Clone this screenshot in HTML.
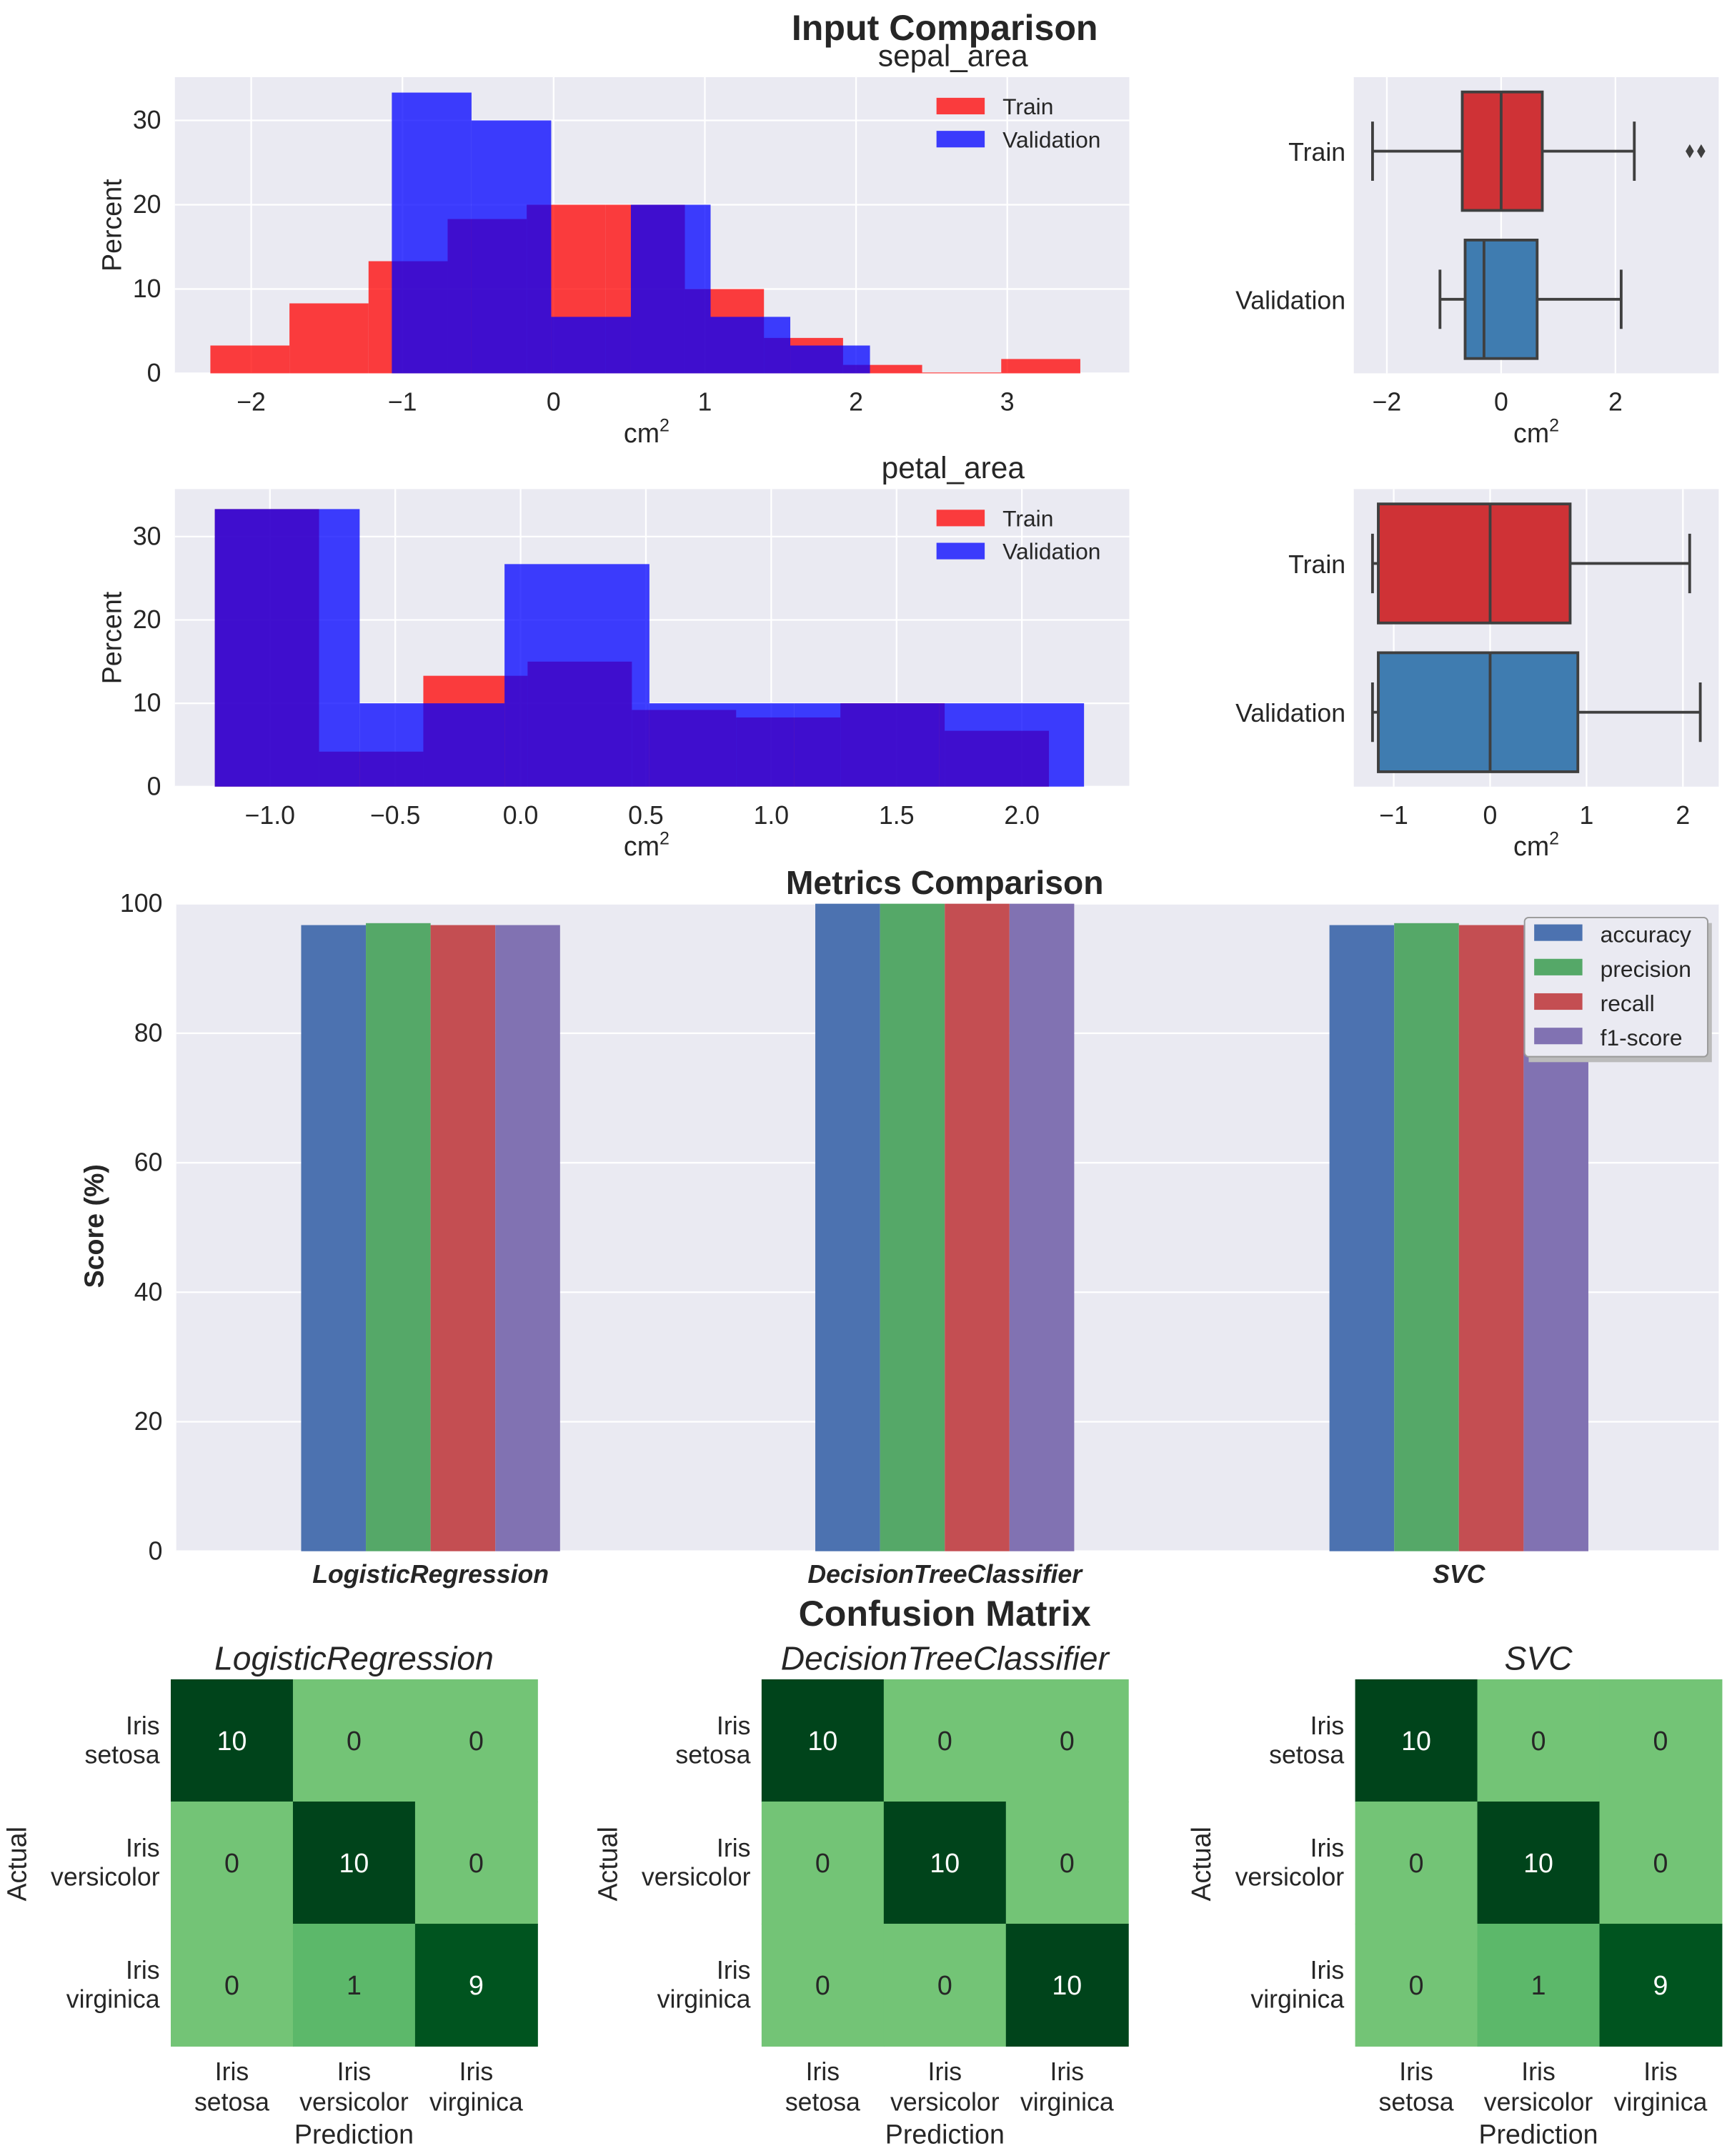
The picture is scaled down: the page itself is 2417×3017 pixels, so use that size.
<!DOCTYPE html>
<html><head><meta charset="utf-8"><style>
html,body{margin:0;padding:0;background:#fff}
svg{display:block;font-family:"Liberation Sans",Arial,sans-serif}
</style></head><body>
<svg id="fig" width="2417" height="3017" viewBox="0 0 1254 1565" preserveAspectRatio="none" xmlns="http://www.w3.org/2000/svg"></svg>
<script>
// ---------- data ----------
const sepalTrainStart = -2.27, sepalTrainWidth = 0.523;
const sepalTrain = [3.3, 8.3, 13.3, 18.3, 20, 20, 10, 4.2, 1, 0.1, 1.7];
const sepalValStart = -1.07, sepalValWidth = 0.527;
const sepalVal = [33.3, 30, 6.7, 20, 6.7, 3.3];
const petalTrainStart = -1.22, petalTrainWidth = 0.416;
const petalTrain = [33.3, 4.2, 13.3, 15, 9.2, 8.3, 10, 6.7];
const petalValStart = -1.22, petalValWidth = 0.578;
const petalVal = [33.3, 10, 26.7, 10, 10, 10];
const sepalTicksX = [-2, -1, 0, 1, 2, 3];
const petalTicksX = [-1.0, -0.5, 0.0, 0.5, 1.0, 1.5, 2.0];
const histTicksY = [0, 10, 20, 30];
// boxplot stats: [whiskerLo, q1, median, q3, whiskerHi]
const sepalBoxTrain = [-2.25, -0.68, 0, 0.72, 2.33];
const sepalBoxVal = [-1.07, -0.63, -0.3, 0.63, 2.1];
const sepalFliers = [3.3, 3.5];
const petalBoxTrain = [-1.22, -1.16, 0, 0.83, 2.07];
const petalBoxVal = [-1.22, -1.16, 0, 0.91, 2.18];
const sepalBoxTicks = [-2, 0, 2];
const petalBoxTicks = [-1, 0, 1, 2];
const models = ["LogisticRegression", "DecisionTreeClassifier", "SVC"];
const metricNames = ["accuracy", "precision", "recall", "f1-score"];
const accuracy = [96.7, 100, 96.7];
const precision = [97.0, 100, 97.0];
const recall = [96.7, 100, 96.7];
const f1score = [96.7, 100, 96.7];
const metricTicks = [0, 20, 40, 60, 80, 100];
const classes = ["setosa", "versicolor", "virginica"];
const cmLR = [[10,0,0],[0,10,0],[0,1,9]];
const cmDT = [[10,0,0],[0,10,0],[0,0,10]];
const cmSVC = [[10,0,0],[0,10,0],[0,1,9]];

const NS = "http://www.w3.org/2000/svg";
const svg = document.getElementById("fig");
function el(tag, attrs, parent, text) {
  const e = document.createElementNS(NS, tag);
  for (const k in attrs) e.setAttribute(k, attrs[k]);
  if (text !== undefined) e.textContent = text;
  (parent || svg).appendChild(e);
  return e;
}
function txt(x, y, s, size, opts, name) {
  const o = Object.assign({x: x, y: y, "font-size": size, fill: "#262626", "text-anchor": "middle"}, opts || {});
  const t = el("text", o, null, s);
  
  
  return t;
}
const BG = "#eaeaf2";

// ---------- titles ----------
txt(686, 29, "Input Comparison", 26, {"font-weight": "bold"}, "input-comparison-title");

// ---------- histograms ----------
function hist(cfg) {
  const {L, R, T, B, x0px, unit, ticksX, title, tr, va, name} = cfg;
  const g = el("g", {});
  
  
  el("rect", {x: L, y: T, width: R - L, height: B - T, fill: BG}, g);
  const X = v => x0px + v * unit;
  const Y = v => B - v * cfg.ypp;
  ticksX.forEach(t => {
    el("line", {x1: X(t), x2: X(t), y1: T, y2: B, stroke: "#fff", "stroke-width": 1.2}, g);
    txt(X(t), B + 27, (t < 0 ? "\u2212" + Math.abs(t).toFixed(cfg.dec) : t.toFixed(cfg.dec)), 18.5, {}, "x-tick-label");
  });
  histTicksY.forEach(t => {
    el("line", {x1: L, x2: R, y1: Y(t), y2: Y(t), stroke: "#fff", "stroke-width": 1.2}, g);
    txt(L - 10, Y(t) + 6, String(t), 18.5, {"text-anchor": "end"}, "y-tick-label");
  });
  tr.vals.forEach((v, i) => {
    const r = el("rect", {x: X(tr.start + i * tr.w), y: Y(v), width: tr.w * unit, height: v * cfg.ypp, fill: "#ff0000", "fill-opacity": 0.75}, g);
    
    
  });
  va.vals.forEach((v, i) => {
    const r = el("rect", {x: X(va.start + i * va.w), y: Y(v), width: va.w * unit, height: v * cfg.ypp, fill: "#0000ff", "fill-opacity": 0.75}, g);
    
    
  });
  txt(692, T - 8, title, 22, {}, "subplot-title");
  txt(88, (T + B) / 2, "Percent", 19.5, {transform: `rotate(-90 88 ${(T + B) / 2})`}, "y-axis-title");
  const xl = txt((L + R) / 2 - 4, B + 50, "cm", 19.5, {}, "x-axis-title");
  el("tspan", {dy: -8, "font-size": 13}, xl, "2");
  const lg = el("g", {});
  
  
  el("rect", {x: 680, y: T + 15, width: 35, height: 12, fill: "#ff0000", "fill-opacity": 0.75}, lg);
  el("rect", {x: 680, y: T + 39, width: 35, height: 12, fill: "#0000ff", "fill-opacity": 0.75}, lg);
  txt(728, T + 27, "Train", 16.5, {"text-anchor": "start"}, "legend-train");
  txt(728, T + 51, "Validation", 16.5, {"text-anchor": "start"}, "legend-validation");
}
hist({L: 127, R: 820, T: 56, B: 271, x0px: 402, unit: 109.8, ypp: 6.12, ticksX: sepalTicksX, dec: 0, title: "sepal_area", name: "sepal-histogram",
  tr: {start: sepalTrainStart, w: sepalTrainWidth, vals: sepalTrain}, va: {start: sepalValStart, w: sepalValWidth, vals: sepalVal}});
hist({L: 127, R: 820, T: 355, B: 571, x0px: 378, unit: 182, ypp: 6.05, ticksX: petalTicksX, dec: 1, title: "petal_area", name: "petal-histogram",
  tr: {start: petalTrainStart, w: petalTrainWidth, vals: petalTrain}, va: {start: petalValStart, w: petalValWidth, vals: petalVal}});

// ---------- boxplots ----------
function boxplot(cfg) {
  const {L, R, T, B, x0px, unit, ticks, boxes, fliers, name} = cfg;
  const g = el("g", {});
  
  
  el("rect", {x: L, y: T, width: R - L, height: B - T, fill: BG}, g);
  const X = v => x0px + v * unit;
  ticks.forEach(t => {
    el("line", {x1: X(t), x2: X(t), y1: T, y2: B, stroke: "#fff", "stroke-width": 1.2}, g);
    txt(X(t), B + 27, t < 0 ? "\u2212" + Math.abs(t) : String(t), 18.5, {}, "x-tick-label");
  });
  const labels = ["Train", "Validation"], cols = ["#cf3236", "#3f7cb0"];
  const h = B - T;
  boxes.forEach((s, i) => {
    const cy = T + h * (0.25 + 0.5 * i), bh = h * 0.4;
    const bg = el("g", {}, g);
    
    
    el("line", {x1: X(s[0]), x2: X(s[1]), y1: cy, y2: cy, stroke: "#3f3f3f", "stroke-width": 2}, bg);
    el("line", {x1: X(s[3]), x2: X(s[4]), y1: cy, y2: cy, stroke: "#3f3f3f", "stroke-width": 2}, bg);
    el("line", {x1: X(s[0]), x2: X(s[0]), y1: cy - bh / 4, y2: cy + bh / 4, stroke: "#3f3f3f", "stroke-width": 2}, bg);
    el("line", {x1: X(s[4]), x2: X(s[4]), y1: cy - bh / 4, y2: cy + bh / 4, stroke: "#3f3f3f", "stroke-width": 2}, bg);
    el("rect", {x: X(s[1]), y: cy - bh / 2, width: X(s[3]) - X(s[1]), height: bh, fill: cols[i], stroke: "#3f3f3f", "stroke-width": 2}, bg);
    el("line", {x1: X(s[2]), x2: X(s[2]), y1: cy - bh / 2, y2: cy + bh / 2, stroke: "#3f3f3f", "stroke-width": 2}, bg);
    txt(L - 6, cy + 7, labels[i], 18.5, {"text-anchor": "end"}, "y-tick-label");
    if (i === 0) (fliers || []).forEach(f => {
      const d = el("path", {d: `M${X(f)} ${cy - 5} L${X(f) + 3} ${cy} L${X(f)} ${cy + 5} L${X(f) - 3} ${cy} Z`, fill: "#3f3f3f"}, bg);
      
      
    });
  });
  const xl = txt((L + R) / 2, B + 50, "cm", 19.5, {}, "x-axis-title");
  el("tspan", {dy: -8, "font-size": 13}, xl, "2");
}
boxplot({L: 983, R: 1248, T: 56, B: 271, x0px: 1090, unit: 41.5, ticks: sepalBoxTicks, boxes: [sepalBoxTrain, sepalBoxVal], fliers: sepalFliers, name: "sepal-boxplot"});
boxplot({L: 983, R: 1248, T: 355, B: 571, x0px: 1082, unit: 70, ticks: petalBoxTicks, boxes: [petalBoxTrain, petalBoxVal], name: "petal-boxplot"});

// ---------- metrics ----------
(function () {
  const L = 128, R = 1248, T = 656, B = 1126;
  const g = el("g", {});
  
  
  el("rect", {x: L, y: T, width: R - L, height: B - T, fill: BG}, g);
  const Y = v => B - v * (B - T) / 100;
  metricTicks.forEach(t => {
    el("line", {x1: L, x2: R, y1: Y(t), y2: Y(t), stroke: "#fff", "stroke-width": 1.2}, g);
    txt(L - 10, Y(t) + 6, String(t), 18.5, {"text-anchor": "end"}, "y-tick-label");
  });
  const series = [accuracy, precision, recall, f1score];
  const cols = ["#4c72b0", "#55a868", "#c44e52", "#8172b2"];
  const bw = 47, gw = (R - L) / models.length;
  models.forEach((m, i) => {
    const c = L + gw * (i + 0.5) - 2;
    series.forEach((s, j) => {
      const r = el("rect", {x: c - 2 * bw + j * bw, y: Y(s[i]), width: bw, height: B - Y(s[i]), fill: cols[j]}, g);
      
      
    });
    txt(c, B + 23, m, 18.5, {"font-weight": "bold", "font-style": "italic"}, "x-tick-label");
  });
  txt(686, 649, "Metrics Comparison", 24, {"font-weight": "bold"}, "metrics-title");
  txt(75, 890, "Score (%)", 19.5, {"font-weight": "bold", transform: "rotate(-90 75 890)"}, "y-axis-title");
  const lg = el("g", {});
  
  
  el("rect", {x: 1110, y: 670, width: 133, height: 101, fill: "#bbb"}, lg);
  el("rect", {x: 1107, y: 666, width: 133, height: 101, rx: 3, fill: "#eaeaf2", stroke: "#999", "stroke-width": 1}, lg);
  metricNames.forEach((n, j) => {
    el("rect", {x: 1114, y: 671 + j * 25, width: 35, height: 12, fill: cols[j]}, lg);
    txt(1162, 684 + j * 25, n, 16.5, {"text-anchor": "start"}, "legend-" + n);
  });
})();

// ---------- confusion matrices ----------
txt(686, 1180, "Confusion Matrix", 26, {"font-weight": "bold"}, "confusion-title");
function cmColor(v) {
  const c = {10: "#00441b", 9: "#00541f", 1: "#5cb86a", 0: "#73c476"};
  return c[v] || "#73c476";
}
function cm(L, data, title, name) {
  const T = 1219, S = 88.7;
  const g = el("g", {});
  
  
  data.forEach((row, r) => row.forEach((v, c) => {
    const cell = el("rect", {x: L + c * S, y: T + r * S, width: S + 0.5, height: S + 0.5, fill: cmColor(v)}, g);
    
    
    txt(L + c * S + S / 2, T + r * S + S / 2 + 7, String(v), 19.5, {fill: v >= 5 ? "#fff" : "#262626"}, "cell-value");
  }));
  classes.forEach((k, i) => {
    txt(L - 8, T + i * S + 40, "Iris", 18.5, {"text-anchor": "end"}, "y-tick-label");
    txt(L - 8, T + i * S + 61, k, 18.5, {"text-anchor": "end"}, "y-tick-label");
    txt(L + i * S + S / 2, 1510, "Iris", 18.5, {}, "x-tick-label");
    txt(L + i * S + S / 2, 1532, k, 18.5, {}, "x-tick-label");
  });
  txt(L + 1.5 * S, 1556, "Prediction", 19.5, {}, "x-axis-title");
  const ax = L - 105;
  txt(ax, 1353, "Actual", 19.5, {transform: `rotate(-90 ${ax} 1353)`}, "y-axis-title");
  txt(L + 1.5 * S, 1212, title, 24, {"font-style": "italic"}, "subplot-title");
}
cm(124, cmLR, models[0], "cm-logistic-regression");
cm(553, cmDT, models[1], "cm-decision-tree");
cm(984, cmSVC, models[2], "cm-svc");
</script>
</body></html>
